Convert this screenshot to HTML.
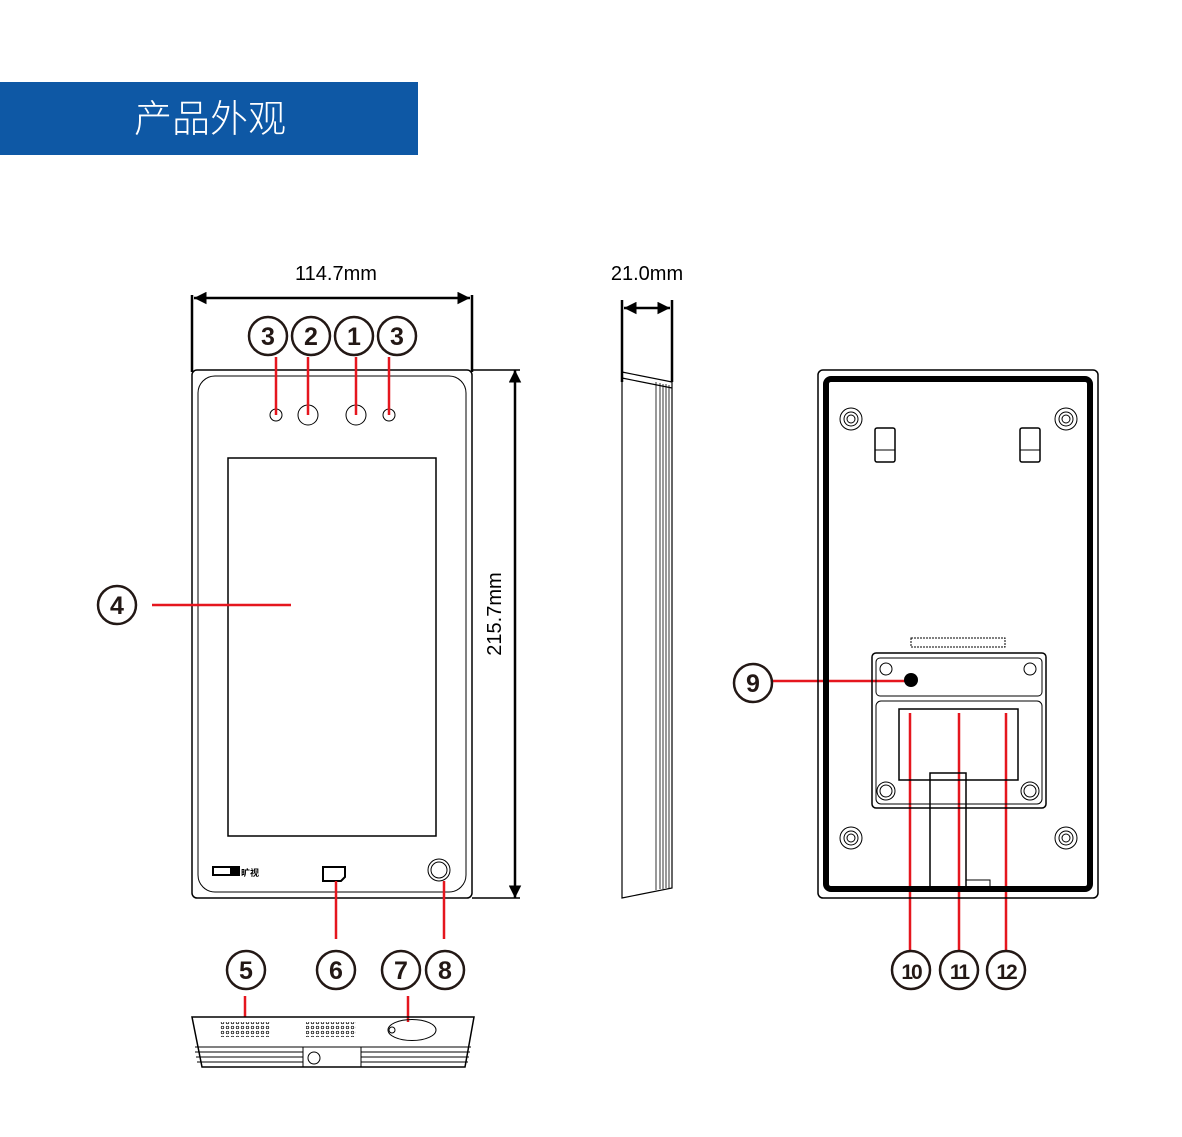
<!DOCTYPE html>
<html><head><meta charset="utf-8"><style>
html,body{margin:0;padding:0;background:#fff;}
svg{display:block;}
.n{font-family:"Liberation Sans",sans-serif;font-weight:bold;font-size:25px;fill:#231815;text-anchor:middle;}
.d{font-family:"Liberation Sans",sans-serif;font-size:20px;fill:#000;text-anchor:middle;}
</style></head><body>
<svg width="1182" height="1137" viewBox="0 0 1182 1137" xmlns="http://www.w3.org/2000/svg">
<rect x="0" y="82" width="418" height="73" fill="#0E58A5"/>
<text x="210" y="132" font-family="'Liberation Sans','Noto Sans CJK SC',sans-serif" font-size="38" font-weight="300" fill="#fff" text-anchor="middle">产品外观</text>

<defs>
<marker id="ar" viewBox="0 0 10 10" refX="10" refY="5" markerWidth="5" markerHeight="5" orient="auto-start-reverse"><path d="M0,0 L10,5 L0,10z" fill="#000"/></marker>
<pattern id="dots" x="0" y="0" width="5" height="5" patternUnits="userSpaceOnUse"><circle cx="2.5" cy="2.5" r="1.3" fill="none" stroke="#000" stroke-width="0.7"/></pattern>
</defs>

<text class="d" x="336" y="280">114.7mm</text>
<g stroke="#000" stroke-width="2.5" fill="none">
<line x1="192" y1="295" x2="192" y2="372"/>
<line x1="472" y1="295" x2="472" y2="372"/>
<line x1="194" y1="298" x2="470" y2="298" marker-start="url(#ar)" marker-end="url(#ar)"/>
<line x1="515" y1="370" x2="515" y2="898" marker-start="url(#ar)" marker-end="url(#ar)"/>
<line x1="472" y1="370" x2="520" y2="370" stroke-width="1.5"/>
<line x1="472" y1="898" x2="520" y2="898" stroke-width="1.5"/>
</g>
<text class="d" transform="translate(501,614) rotate(-90)">215.7mm</text>

<g stroke="#000" fill="none" stroke-width="1.5">
<rect x="192" y="370" width="280" height="528" rx="5"/>
<rect x="198" y="376" width="268" height="516" rx="17" stroke-width="1"/>
<rect x="228" y="458" width="208" height="378"/>
<circle cx="276" cy="415" r="6" stroke-width="1"/>
<circle cx="308" cy="415" r="10" stroke-width="1"/>
<circle cx="356" cy="415" r="10" stroke-width="1"/>
<circle cx="389" cy="415" r="6" stroke-width="1"/>
<circle cx="439" cy="870" r="11" stroke-width="1"/>
<circle cx="439" cy="870" r="8" stroke-width="1"/>
<path d="M323,867 h22 v10 l-4,4 h-18z" stroke-width="2"/>
</g>
<rect x="212" y="866" width="28" height="10" fill="#000"/>
<rect x="214" y="868" width="16" height="6" fill="#fff"/>
<text x="250" y="876" font-family="'Noto Sans CJK SC',sans-serif" font-size="9" font-weight="bold" text-anchor="middle">旷视</text>

<g stroke="#E5161E" stroke-width="2.5">
<line x1="276" y1="357" x2="276" y2="415"/>
<line x1="308" y1="357" x2="308" y2="415"/>
<line x1="356" y1="357" x2="356" y2="415"/>
<line x1="389" y1="357" x2="389" y2="415"/>
<line x1="152" y1="605" x2="291" y2="605"/>
<line x1="336" y1="881" x2="336" y2="939"/>
<line x1="444" y1="881" x2="444" y2="939"/>
<line x1="245" y1="996" x2="245" y2="1017"/>
<line x1="408" y1="996" x2="408" y2="1022"/>
<line x1="772" y1="681" x2="910" y2="681"/>
<line x1="910" y1="713" x2="910" y2="952"/>
<line x1="959" y1="713" x2="959" y2="952"/>
<line x1="1006" y1="713" x2="1006" y2="952"/>
</g>

<g stroke="#231815" stroke-width="2.5" fill="#fff">
<circle cx="268" cy="336" r="19"/><circle cx="311" cy="336" r="19"/><circle cx="354" cy="336" r="19"/><circle cx="397" cy="336" r="19"/>
<circle cx="117" cy="605" r="19"/>
<circle cx="246" cy="970" r="19"/><circle cx="336" cy="970" r="19"/><circle cx="401" cy="970" r="19"/><circle cx="445" cy="970" r="19"/>
<circle cx="753" cy="683" r="19"/>
<circle cx="911" cy="970" r="19"/><circle cx="959" cy="970" r="19"/><circle cx="1006" cy="970" r="19"/>
</g>
<g class="n">
<text x="268" y="345">3</text><text x="311" y="345">2</text><text x="354" y="345">1</text><text x="397" y="345">3</text>
<text x="117" y="614">4</text>
<text x="246" y="979">5</text><text x="336" y="979">6</text><text x="401" y="979">7</text><text x="445" y="979">8</text>
<text x="753" y="692">9</text>
<text x="911" y="979" style="font-size:21px;letter-spacing:-2px">10</text><text x="959" y="979" style="font-size:21px;letter-spacing:-2px">11</text><text x="1006" y="979" style="font-size:21px;letter-spacing:-2px">12</text>
</g>

<text class="d" x="647" y="280">21.0mm</text>
<g stroke="#000" fill="none">
<line x1="622" y1="300" x2="622" y2="382" stroke-width="2.5"/>
<line x1="672" y1="300" x2="672" y2="382" stroke-width="2.5"/>
<line x1="624" y1="308" x2="670" y2="308" stroke-width="2.5" marker-start="url(#ar)" marker-end="url(#ar)"/>
<path d="M622,372 L672,382 M622,378 L672,388 M622,372 V898 L672,888 V382" stroke-width="1.2"/>
<path d="M656,382 V890 M660,383 V889 M663,384 V889 M666,384 V888 M669,385 V888" stroke-width="0.8"/>
</g>

<g stroke="#000" fill="none">
<rect x="818" y="370" width="280" height="528" rx="5" stroke-width="1.5"/>
<rect x="826" y="379" width="264" height="510" rx="5" stroke-width="6"/>
<g stroke-width="1">
<circle cx="851" cy="419" r="11"/><circle cx="851" cy="419" r="7"/><circle cx="851" cy="419" r="4"/>
<circle cx="1066" cy="419" r="11"/><circle cx="1066" cy="419" r="7"/><circle cx="1066" cy="419" r="4"/>
<circle cx="851" cy="838" r="11"/><circle cx="851" cy="838" r="7"/><circle cx="851" cy="838" r="4"/>
<circle cx="1066" cy="838" r="11"/><circle cx="1066" cy="838" r="7"/><circle cx="1066" cy="838" r="4"/>
</g>
<rect x="875" y="428" width="20" height="34" rx="2" stroke-width="1.5"/><line x1="875" y1="450" x2="895" y2="450"/>
<rect x="1020" y="428" width="20" height="34" rx="2" stroke-width="1.5"/><line x1="1020" y1="450" x2="1040" y2="450"/>
<rect x="872" y="653" width="174" height="155" rx="4" stroke-width="1.5"/>
<rect x="876" y="658" width="166" height="38" rx="4"/>
<circle cx="886" cy="669" r="6"/><circle cx="1030" cy="669" r="6"/>
<rect x="876" y="701" width="166" height="103" rx="5"/>
<path d="M899,709 H1018 V780 H899Z" stroke-width="1.5"/>
<circle cx="886" cy="791" r="9"/><circle cx="886" cy="791" r="6"/>
<circle cx="1030" cy="791" r="9"/><circle cx="1030" cy="791" r="6"/>
<path d="M930,773 H966 V890 H930Z" stroke-width="1.5"/>
<path d="M966,880 H990 V890" />
</g>
<circle cx="911" cy="680" r="7" fill="#000"/>
<rect x="911" y="638" width="94" height="9" fill="none" stroke="#000" stroke-width="1" stroke-dasharray="2,1"/>

<g stroke="#000" fill="none" stroke-width="1">
<path d="M192,1017 H474 L465,1067 H202Z" stroke-width="1.5"/>
<path d="M195,1047 H303 M195,1052 H303 M196,1057 H303 M197,1062 H303 M361,1047 H471 M361,1052 H470 M361,1057 H469 M361,1062 H468"/>
<path d="M303,1047 H361 V1067 H303Z"/>
<circle cx="314" cy="1058" r="6"/>
<path d="M388,1030 a16,7 0 0 1 48,0 a16,7 0 0 1 -48,0z"/>
<circle cx="392" cy="1030" r="3"/>
</g>
<rect x="220" y="1022" width="50" height="15" fill="url(#dots)"/>
<rect x="306" y="1022" width="50" height="15" fill="url(#dots)"/>
</svg>
</body></html>
